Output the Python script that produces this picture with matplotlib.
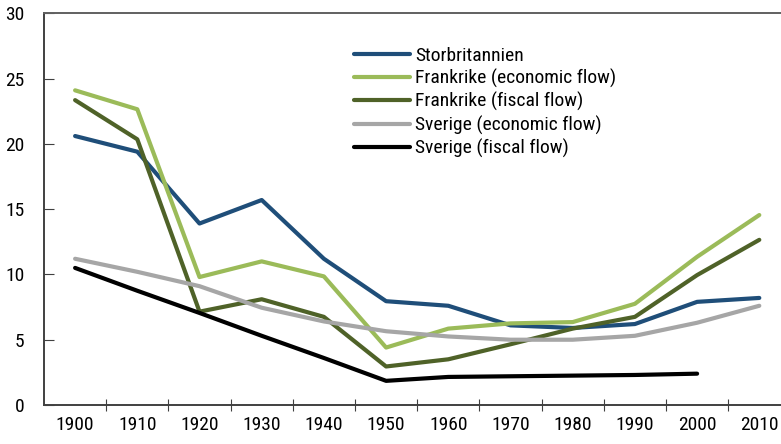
import numpy as np
import matplotlib
matplotlib.use("Agg")
import matplotlib.pyplot as plt

plt.rcParams['font.family'] = ['Roboto Condensed', 'Archivo Narrow', 'DejaVu Sans']

years = ['1900', '1910', '1920', '1930', '1940', '1950', '1960', '1970', '1980', '1990', '2000', '2010']

# values
storbritannien = [20.6, 19.4, 13.9, 15.7, 11.2, 7.95, 7.6, 6.1, 5.9, 6.2, 7.9, 8.2]
frankrike_econ = [24.1, 22.65, 9.8, 11.0, 9.85, 4.4, 5.85, 6.25, 6.35, 7.75, 11.35, 14.55]
frankrike_fisc = [23.35, 20.35, 7.15, 8.1, 6.75, 2.95, 3.5, 4.65, 5.85, 6.75, 9.95, 12.65]
sverige_econ = [11.2, 10.2, 9.1, 7.45, 6.4, 5.65, 5.25, 5.0, 5.0, 5.3, 6.3, 7.6]
sverige_fisc = [10.5, 8.75, 7.05, 5.3, 3.6, 1.85, 2.15, 2.2, 2.25, 2.3, 2.4, np.nan]

series = [
    ('Storbritannien', storbritannien, '#1F4E79'),
    ('Frankrike (economic flow)', frankrike_econ, '#9BBB59'),
    ('Frankrike (fiscal flow)', frankrike_fisc, '#4F6228'),
    ('Sverige (economic flow)', sverige_econ, '#A6A6A6'),
    ('Sverige (fiscal flow)', sverige_fisc, '#000000'),
]

fig = plt.figure(figsize=(7.81, 4.44), dpi=100)
ax = fig.add_axes([44 / 781, 39 / 444, 746.4 / 781, 391.7 / 444])

x = np.arange(len(years))
for name, vals, col in series:
    ax.plot(x, vals, color=col, linewidth=3, label=name, solid_capstyle='round')

ax.set_xlim(-0.5, len(years) - 0.5)
ax.set_ylim(0, 30)
ax.set_yticks(range(0, 31, 5))

# ticks between categories, labels at category centres
ax.set_xticks(x[:-1] + 0.5)
ax.set_xticklabels([])
ax.set_xticks(x, minor=True)
ax.set_xticklabels(years, minor=True, fontsize=14)
ax.tick_params(axis='x', which='major', direction='inout', length=8, width=0.8, color='#404040')
ax.tick_params(axis='x', which='minor', length=0, pad=8)
ax.tick_params(axis='y', direction='in', length=7, width=0.8, color='#404040', labelsize=14, pad=14)

for side in ['left', 'bottom', 'top']:
    ax.spines[side].set_color('#404040')
    ax.spines[side].set_linewidth(1.4)
ax.spines['top'].set_color('#606060')
ax.spines['right'].set_visible(False)

ax.legend(loc='upper left', bbox_to_anchor=(0.405, 0.935), frameon=False, fontsize=14,
          handlelength=2.9, handletextpad=0.25, labelspacing=0.22, borderaxespad=0)

fig.savefig('out.png', dpi=100)
